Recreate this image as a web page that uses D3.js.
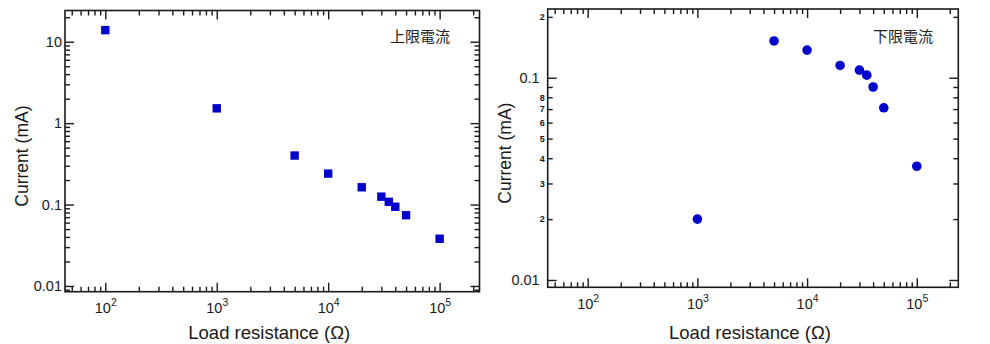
<!DOCTYPE html>
<html><head><meta charset="utf-8">
<script src="https://cdn.jsdelivr.net/npm/d3@7"></script>
<style>
body{margin:0;background:#fff;}
svg{display:block;font-family:"Liberation Sans",Arial,sans-serif;}
</style></head><body>
<svg id="c" width="990" height="344"></svg>
<script>
// ---- data ----
const resistanceUpper = [100, 1000, 5000, 10000, 20000, 30000, 35000, 40000, 50000, 100000];
const currentUpper    = [13.9, 1.52, 0.40, 0.24, 0.163, 0.125, 0.108, 0.094, 0.074, 0.038];
const resistanceLower = [1000, 5000, 10000, 20000, 30000, 35000, 40000, 50000, 100000];
const currentLower    = [0.020, 0.152, 0.137, 0.115, 0.109, 0.103, 0.090, 0.071, 0.0365];
const xMajorTicks = [100, 1000, 10000, 100000];
const yMajorUpper = [10, 1, 0.1, 0.01];
const yMajorLower = [0.1, 0.01];
const yMinorLabelsLower = [0.2, 0.08, 0.07, 0.06, 0.05, 0.04, 0.03, 0.02];
const labelUpper = "上限電流";
const labelLower = "下限電流";
const xTitle = "Load resistance (Ω)";
const yTitle = "Current (mA)";

const svg = d3.select("#c");
const ink = "#1a1a1a";
const markColor = "#0000cc";

function minorTicks(domain){
  const out=[];
  const lo=Math.floor(Math.log10(domain[0])), hi=Math.ceil(Math.log10(domain[1]));
  for(let e=lo;e<=hi;e++){
    for(let m=2;m<=9;m++){
      const v=m*Math.pow(10,e);
      if(v>=domain[0]&&v<=domain[1]) out.push(v);
    }
  }
  return out;
}

function panel(opt){
  const {x0,x1,y0,y1,xDom,yDom,yMajors,yFmt,yMinorLabels,xs,ys,marker,label,labelX,labelY,yTitleX,yMajorPad,yFont} = opt;
  const g = svg.append("g");
  const x = d3.scaleLog().domain(xDom).range([x0,x1]);
  const y = d3.scaleLog().domain(yDom).range([y1,y0]);
  const xMin = minorTicks(xDom).filter(v=>!xMajorTicks.includes(v));
  const yMin = minorTicks(yDom).filter(v=>!yMajors.some(m=>Math.abs(m-v)/v<1e-9));

  function styleAxis(sel){
    sel.select(".domain").remove();
    sel.selectAll("line").attr("stroke",ink).attr("stroke-width",1.4);
    sel.selectAll("text").attr("fill",ink);
  }
  const bx = g.append("g").attr("transform",`translate(0,${y1})`)
    .call(d3.axisBottom(x).tickValues(xMajorTicks).tickSize(-9).tickPadding(11).tickFormat(d=>""));
  styleAxis(bx);
  bx.selectAll(".tick text").each(function(d){
    const t=d3.select(this).attr("font-size",14.5).attr("text-anchor","middle");
    t.text(null);
    t.append("tspan").text("10");
    t.append("tspan").attr("font-size",10.5).attr("dy",-7).text(Math.round(Math.log10(d)));
  });
  styleAxis(g.append("g").attr("transform",`translate(0,${y1})`)
    .call(d3.axisBottom(x).tickValues(xMin).tickSize(-5).tickFormat(()=>"")));
  styleAxis(g.append("g").attr("transform",`translate(0,${y0})`)
    .call(d3.axisTop(x).tickValues(xMajorTicks).tickSize(-9).tickFormat(()=>"")));
  styleAxis(g.append("g").attr("transform",`translate(0,${y0})`)
    .call(d3.axisTop(x).tickValues(xMin).tickSize(-5).tickFormat(()=>"")));
  const ly = g.append("g").attr("transform",`translate(${x0},0)`)
    .call(d3.axisLeft(y).tickValues(yMajors).tickSize(-9).tickPadding(yMajorPad).tickFormat(yFmt));
  styleAxis(ly);
  ly.selectAll(".tick text").attr("font-size",yFont);
  const lm = g.append("g").attr("transform",`translate(${x0},0)`)
    .call(d3.axisLeft(y).tickValues(yMin).tickSize(-5).tickPadding(3)
      .tickFormat(d=>yMinorLabels.some(m=>Math.abs(m-d)/d<1e-9)? String(Math.round(d/Math.pow(10,Math.floor(Math.log10(d)+1e-9)))) : ""));
  styleAxis(lm);
  lm.selectAll(".tick text").attr("font-size",9).attr("font-weight","bold");
  styleAxis(g.append("g").attr("transform",`translate(${x1},0)`)
    .call(d3.axisRight(y).tickValues(yMajors).tickSize(-9).tickFormat(()=>"")));
  styleAxis(g.append("g").attr("transform",`translate(${x1},0)`)
    .call(d3.axisRight(y).tickValues(yMin).tickSize(-5).tickFormat(()=>"")));
  g.append("rect").attr("x",x0).attr("y",y0).attr("width",x1-x0).attr("height",y1-y0)
    .attr("fill","none").attr("stroke",ink).attr("stroke-width",1.6);
  const pts = xs.map((v,i)=>({r:v,c:ys[i]}));
  if(marker==="square"){
    g.selectAll("rect.pt").data(pts).join("rect").attr("class","pt")
      .attr("x",d=>x(d.r)-4.2).attr("y",d=>y(d.c)-4.2).attr("width",8.4).attr("height",8.4)
      .attr("fill",markColor);
  } else {
    g.selectAll("circle.pt").data(pts).join("circle").attr("class","pt")
      .attr("cx",d=>x(d.r)).attr("cy",d=>y(d.c)).attr("r",4.8).attr("fill",markColor);
  }
  g.append("text").attr("x",labelX).attr("y",labelY).attr("text-anchor","end")
    .attr("font-family","'Noto Sans CJK JP',sans-serif").attr("font-size",15).attr("fill","#222").text(label);
  g.append("text").attr("x",(x0+x1)/2-3).attr("y",339).attr("text-anchor","middle")
    .attr("font-size",18.5).attr("fill",ink).text(xTitle);
  g.append("text").attr("transform",`translate(${yTitleX},${(y0+y1)/2+5}) rotate(-90)`)
    .attr("text-anchor","middle").attr("font-size",17.5).attr("fill",ink).text(yTitle);
}

panel({x0:65,x1:479.5,y0:10.5,y1:291.7,xDom:[43.5,227900],yDom:[0.0085,24.2],
  yMajors:yMajorUpper,yFmt:d=>String(d),yMinorLabels:[],xs:resistanceUpper,ys:currentUpper,
  marker:"square",label:labelUpper,labelX:450,labelY:42,yTitleX:28,yMajorPad:3,yFont:14.5});
panel({x0:547.7,x1:958.3,y0:9,y1:287.3,xDom:[43.2,239000],yDom:[0.0092,0.2187],
  yMajors:yMajorLower,yFmt:d=>String(d),yMinorLabels:yMinorLabelsLower,xs:resistanceLower,ys:currentLower,
  marker:"circle",label:labelLower,labelX:933,labelY:42,yTitleX:511,yMajorPad:8,yFont:14.5});
</script>
</body></html>
